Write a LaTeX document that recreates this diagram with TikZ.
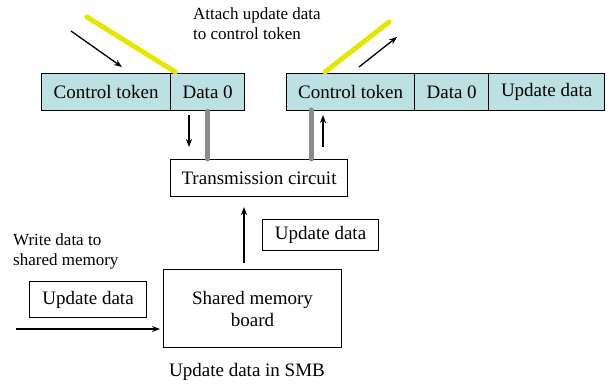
\documentclass[tikz,border=0pt]{standalone}
\usepackage{fontspec}
\setmainfont{Liberation Serif}
\usetikzlibrary{arrows.meta,calc}
\definecolor{cellfill}{RGB}{187,225,227}
\definecolor{wire}{RGB}{230,230,0}
\definecolor{barcol}{RGB}{140,140,140}
\tikzset{
  cell/.style={draw=black,line width=1.3pt,fill=cellfill,anchor=north west,
    minimum height=37pt,inner sep=0pt,font=\fontsize{19}{22}\selectfont},
  plainbox/.style={draw=black,line width=1.1pt,fill=white,anchor=north west,
    inner sep=0pt,font=\fontsize{19}{22}\selectfont,align=center},
  note/.style={font=\fontsize{17}{20}\selectfont,align=left,inner sep=0pt},
  flow/.style={line width=1.3pt,-{Stealth[length=8pt,width=6pt]}},
  yellowbar/.style={line width=5pt,wire,line cap=round},
  graybar/.style={line width=5pt,barcol,line cap=round}
}
\begin{document}
\begin{tikzpicture}[x=1pt,y=-1pt]
\useasboundingbox (0,0) rectangle (608,389);

% token frame before the update
\node[cell,minimum width=129pt] (ctA) at (41,73) {Control token};
\node[cell,minimum width=74pt] (dA) at (170,73) {Data 0};

% token frame after the update
\node[cell,minimum width=128pt] (ctB) at (286,73) {Control token};
\node[cell,minimum width=74pt] (dB) at (414,73) {Data 0};
\node[cell,minimum width=116pt] (udB) at (488,73) {Update data};

% transmission circuit and shared memory board
\node[plainbox,minimum width=177pt,minimum height=37pt] (tc) at (170,159) {Transmission circuit};
\node[plainbox,minimum width=178pt,minimum height=78pt] (smb) at (163,269) {Shared memory\\board};
\node[plainbox,minimum width=116pt,minimum height=31pt] (udR) at (262,219) {Update data};
\node[plainbox,minimum width=117pt,minimum height=36pt] (udL) at (29,281) {Update data};

% labels
\node[note,anchor=north west] (lblAttach) at (193,8) {Attach update data\\to control token};
\node[note,anchor=north west] (lblWrite) at (13,233) {Write data to\\shared memory};
\node[font=\fontsize{19}{22}\selectfont,inner sep=0pt] (lblSMB) at (247,372) {Update data in SMB};

% yellow wires entering and leaving the frames
\coordinate (yA) at (87,17);
\coordinate (yB) at (389,22);
\draw[yellowbar] (yA) -- ($(ctA.north east)+(4,-1)$);
\draw[yellowbar] ($(ctB.north west)+(39,-1)$) -- (yB);

% travel direction of the frames
\coordinate (inA1) at (71,31);
\coordinate (inA2) at (122,67);
\draw[flow] (inA1) -- (inA2);
\coordinate (outB1) at (359,67);
\coordinate (outB2) at (397,37);
\draw[flow] (outB1) -- (outB2);

% gray links between frames and the transmission circuit
\draw[graybar] (dA.south) -- (dA.south |- tc.north);
\coordinate (linkB) at (311,110);
\draw[graybar] (linkB) -- (linkB |- tc.north);

% small arrows beside the links
\coordinate (dn1) at (189,115);
\coordinate (dn2) at (189,147);
\draw[flow] (dn1) -- (dn2);
\coordinate (up1) at (323,147);
\coordinate (up2) at (323,115);
\draw[flow] (up1) -- (up2);

% shared memory board to transmission circuit
\coordinate (smbUp) at (244,269);
\draw[flow,shorten <=6pt,shorten >=10pt] (smbUp) -- (smbUp |- tc.south);

% write into the shared memory board
\coordinate (wIn) at (16,329);
\draw[flow,shorten >=3pt] (wIn) -- (wIn -| smb.west);
\end{tikzpicture}
\end{document}
